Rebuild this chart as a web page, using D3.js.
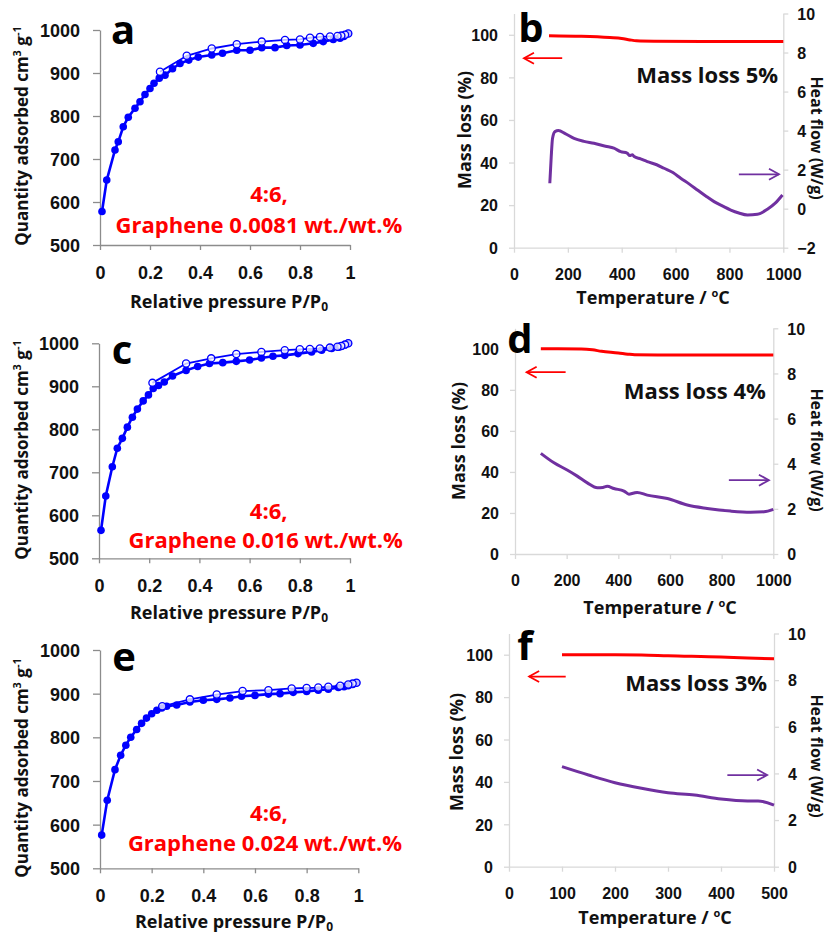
<!DOCTYPE html>
<html>
<head>
<meta charset="utf-8">
<script src="https://cdn.jsdelivr.net/npm/d3@7"></script>
<style>
  body { margin: 0; background: #fff; }
  svg { display: block; font-family: "Open Sans", sans-serif; }
  .iso .tick text { font-size: 18px; font-weight: 700; fill: #111; }
  .tga .tick text { font-size: 16px; font-weight: 700; fill: #111; }
  .ttl { font-weight: 700; fill: #111; }
</style>
</head>
<body>
<script>
// ---- isotherm data: [P/P0, quantity adsorbed] ----
var isoA_ads = [[0.008,578],[0.027,651],[0.06,721],[0.073,740],[0.093,775],[0.113,797],[0.14,818],[0.16,833],[0.18,850],[0.2,864],[0.216,876],[0.237,888],[0.26,895],[0.29,910],[0.32,922],[0.355,930],[0.393,937],[0.447,942],[0.49,946],[0.547,953],[0.6,953],[0.647,959],[0.7,959],[0.747,964],[0.8,965],[0.853,969],[0.893,973],[0.933,978],[0.96,981],[0.975,985],[0.993,992]];
var isoA_des = [[0.993,992],[0.98,989],[0.965,987],[0.95,986],[0.92,985],[0.88,984],[0.84,982],[0.8,978],[0.74,977],[0.647,973],[0.547,967],[0.447,957],[0.347,940],[0.24,903]];

var isoC_ads = [[0.008,565],[0.027,645],[0.053,713],[0.073,756],[0.093,779],[0.113,805],[0.133,828],[0.153,847],[0.176,866],[0.197,880],[0.216,895],[0.237,902],[0.26,910],[0.293,924],[0.347,937],[0.393,946],[0.44,953],[0.493,955],[0.547,958],[0.6,961],[0.647,966],[0.693,970],[0.74,972],[0.793,976],[0.847,980],[0.887,984],[0.927,988],[0.955,991],[0.967,993],[0.98,996],[0.993,1000]];
var isoC_des = [[0.993,1000],[0.98,997],[0.965,994],[0.95,992],[0.92,990],[0.88,988],[0.84,987],[0.8,986],[0.74,984],[0.647,980],[0.547,975],[0.447,965],[0.347,953],[0.213,908]];

var isoE_ads = [[0.0065,576],[0.028,656],[0.058,726],[0.08,759],[0.1,782],[0.119,800],[0.142,818],[0.161,832],[0.18,844],[0.2,854],[0.22,862],[0.239,867],[0.258,871],[0.297,874],[0.348,881],[0.4,885],[0.452,887],[0.503,890],[0.548,894],[0.6,896],[0.652,899],[0.697,900],[0.748,903],[0.8,905],[0.845,908],[0.884,910],[0.923,914],[0.945,916],[0.961,918],[0.978,921],[0.993,925]];
var isoE_des = [[0.993,925],[0.978,923],[0.961,921],[0.93,918],[0.884,916],[0.845,914],[0.8,913],[0.742,912],[0.652,908],[0.552,906],[0.452,898],[0.348,887],[0.241,871]];

var isoXTicks = [0, 0.2, 0.4, 0.6, 0.8, 1];
var isoYTicks = [500, 600, 700, 800, 900, 1000];
var isoLabels = ["Graphene 0.0081 wt./wt.%", "Graphene 0.016 wt./wt.%", "Graphene 0.024 wt./wt.%"];

// ---- TGA data: [temperature, mass %] and [temperature, heat flow W/g] ----
var massB = [[130,99.6],[250,99.3],[356,98.7],[400,98.3],[431,97.6],[455,97.2],[520,97.0],[700,96.9],[1000,96.9]];
var heatB = [[133,1.3],[138,2.6],[143,3.6],[152,3.95],[165,4.0],[190,3.85],[223,3.6],[260,3.45],[297,3.35],[340,3.2],[371,3.1],[396,2.92],[420,2.85],[430,2.72],[440,2.76],[446,2.67],[470,2.55],[495,2.41],[530,2.25],[557,2.07],[590,1.85],[619,1.56],[650,1.27],[681,0.96],[712,0.65],[743,0.36],[775,0.13],[805,-0.07],[835,-0.22],[867,-0.32],[904,-0.29],[941,-0.03],[970,0.28],[997,0.7]];

var massD = [[100,100],[257,99.9],[300,99.5],[335,98.8],[400,98.0],[437,97.4],[463,97.1],[600,97.0],[1000,97.0]];
var heatD = [[100,4.46],[151,4.04],[202,3.72],[241,3.45],[280,3.15],[319,2.93],[340,2.95],[357,3.0],[383,2.9],[422,2.79],[441,2.65],[460,2.7],[473,2.73],[512,2.61],[590,2.46],[667,2.17],[744,2.02],[835,1.9],[912,1.85],[964,1.87],[1000,1.98]];

var massF = [[100,100],[200,100],[250,99.9],[300,99.5],[400,98.9],[450,98.4],[500,98.1]];
var heatF = [[100,4.29],[150,3.93],[200,3.6],[250,3.36],[300,3.17],[350,3.07],[400,2.9],[450,2.82],[470,2.82],[500,2.64]];

var massTicks = [0, 20, 40, 60, 80, 100];
var tempTicks1000 = [0, 200, 400, 600, 800, 1000];
var tempTicks500 = [0, 100, 200, 300, 400, 500];
var lossLabels = ["Mass loss 5%", "Mass loss 4%", "Mass loss 3%"];

var svg = d3.select("body").append("svg")
  .attr("width", 828)
  .attr("height", 936);

function styleAxis(sel, color) {
  sel.select(".domain").attr("stroke", color).attr("stroke-width", 1.3);
  sel.selectAll(".tick line").attr("stroke", color).attr("stroke-width", 1.3);
}

function drawIso(p) {
  var x = d3.scaleLinear().domain([0, 1]).range([p.x0, p.x1]);
  var y = d3.scaleLinear().domain([500, 1000]).range([p.yb, p.yt]);
  var g = svg.append("g").attr("class", "iso");

  var ax = g.append("g")
    .attr("transform", "translate(0," + p.yb + ")")
    .call(d3.axisBottom(x).tickValues(isoXTicks).tickFormat(d3.format("~g"))
      .tickSize(5).tickSizeOuter(0).tickPadding(16));
  styleAxis(ax, "#8c8c8c");
  var ay = g.append("g")
    .attr("transform", "translate(" + p.x0 + ",0)")
    .call(d3.axisLeft(y).tickValues(isoYTicks).tickFormat(d3.format("d"))
      .tickSize(7).tickSizeOuter(0).tickPadding(13));
  styleAxis(ay, "#8c8c8c");
  ay.selectAll(".tick text").attr("dy", "0.36em");

  var line = d3.line().x(function(d) { return x(d[0]); }).y(function(d) { return y(d[1]); });

  g.append("path").datum(p.ads).attr("d", line)
    .attr("fill", "none").attr("stroke", "#0000ff").attr("stroke-width", 2.6);
  g.selectAll(".ads").data(p.ads).enter().append("circle")
    .attr("cx", function(d) { return x(d[0]); })
    .attr("cy", function(d) { return y(d[1]); })
    .attr("r", 3.8).attr("fill", "#0000ff");

  g.append("path").datum(p.des).attr("d", line)
    .attr("fill", "none").attr("stroke", "#0000ff").attr("stroke-width", 1.8);
  g.selectAll(".des").data(p.des).enter().append("circle")
    .attr("cx", function(d) { return x(d[0]); })
    .attr("cy", function(d) { return y(d[1]); })
    .attr("r", 3.6).attr("fill", "rgba(255,255,255,0.75)")
    .attr("stroke", "#0000ff").attr("stroke-width", 1.3);

  // panel letter
  g.append("text").attr("x", p.lx).attr("y", p.ly)
    .attr("text-anchor", "middle").attr("font-size", "40px").attr("font-weight", 700)
    .text(p.letter);

  // red annotation
  g.append("text").attr("x", x(p.t1[0])).attr("y", y(p.t1[1]))
    .attr("text-anchor", "middle").attr("font-size", "22px").attr("font-weight", 700)
    .attr("fill", "#ff0000").text("4:6,");
  g.append("text").attr("x", x(p.t2[0])).attr("y", y(p.t2[1]))
    .attr("text-anchor", "middle").attr("font-size", "22px").attr("font-weight", 700)
    .attr("fill", "#ff0000").attr("xml:space", "preserve").text(p.label);

  // x title with subscript
  var xt = g.append("text").attr("class", "ttl").attr("x", p.xtx).attr("y", p.xty)
    .attr("text-anchor", "middle").attr("font-size", "18px");
  xt.append("tspan").text("Relative pressure P/P");
  xt.append("tspan").attr("font-size", "12px").attr("dy", "3").text("0");

  // y title with superscripts
  var yt = g.append("text").attr("class", "ttl")
    .attr("transform", "translate(" + p.ytx + "," + p.yty + ") rotate(-90)")
    .attr("text-anchor", "middle").attr("font-size", "17px");
  yt.append("tspan").text("Quantity adsorbed cm");
  yt.append("tspan").attr("font-size", "11px").attr("dy", "-7").text("3");
  yt.append("tspan").attr("dy", "7").text(" g");
  yt.append("tspan").attr("font-size", "11px").attr("dy", "-7").text("-1");
}

function arrow(g, x1, y1, x2, y2, color) {
  g.append("line").attr("x1", x1).attr("y1", y1).attr("x2", x2).attr("y2", y2)
    .attr("stroke", color).attr("stroke-width", 1.8);
  var dir = x2 > x1 ? -1 : 1;
  g.append("path")
    .attr("d", "M" + (x2 + dir * 10) + "," + (y2 - 5.5) + "L" + x2 + "," + y2 + "L" + (x2 + dir * 10) + "," + (y2 + 5.5))
    .attr("fill", "none").attr("stroke", color).attr("stroke-width", 1.8);
}

function drawTga(p) {
  var x = d3.scaleLinear().domain([0, p.tmax]).range([p.x0, p.x1]);
  var yl = d3.scaleLinear().domain([0, 110]).range([p.yb, p.yt]);
  var yr = d3.scaleLinear().domain([p.rmin, 10]).range([p.yb, p.yt]);
  var g = svg.append("g").attr("class", "tga");
  var grey = "#d9d9d9";

  var ax = g.append("g").attr("transform", "translate(0," + p.yb + ")")
    .call(d3.axisBottom(x).tickValues(p.xticks).tickFormat(d3.format("d"))
      .tickSize(5).tickSizeOuter(0).tickPadding(16));
  styleAxis(ax, grey);
  var al = g.append("g").attr("transform", "translate(" + p.x0 + ",0)")
    .call(d3.axisLeft(yl).tickValues(massTicks).tickSize(5).tickSizeOuter(0).tickPadding(11));
  styleAxis(al, grey);
  al.selectAll(".tick text").attr("dy", "0.36em");
  var ar = g.append("g").attr("transform", "translate(" + p.x1 + ",0)")
    .call(d3.axisRight(yr).tickValues(p.rticks).tickSize(5).tickSizeOuter(0).tickPadding(9));
  styleAxis(ar, grey);
  ar.selectAll(".tick text").attr("dy", "0.36em");

  var lineM = d3.line().curve(d3.curveMonotoneX)
    .x(function(d) { return x(d[0]); }).y(function(d) { return yl(d[1]); });
  var lineH = d3.line().curve(d3.curveMonotoneX)
    .x(function(d) { return x(d[0]); }).y(function(d) { return yr(d[1]); });

  g.append("path").datum(p.mass).attr("d", lineM)
    .attr("fill", "none").attr("stroke", "#ff0000").attr("stroke-width", 3);
  g.append("path").datum(p.heat).attr("d", lineH)
    .attr("fill", "none").attr("stroke", "#7030a0").attr("stroke-width", 3);

  arrow(g, x(p.ra[0]), yl(p.ra[2]), x(p.ra[1]), yl(p.ra[2]), "#ff0000");
  arrow(g, x(p.pa[0]), yr(p.pa[2]), x(p.pa[1]), yr(p.pa[2]), "#7030a0");

  g.append("text").attr("x", p.lx).attr("y", p.ly)
    .attr("text-anchor", "middle").attr("font-size", "40px").attr("font-weight", 700)
    .text(p.letter);

  g.append("text").attr("x", x(p.tl[0])).attr("y", yl(p.tl[1]))
    .attr("text-anchor", "end").attr("font-size", "22px").attr("font-weight", 700)
    .attr("fill", "#111").text(p.label);

  var xt = g.append("text").attr("class", "ttl").attr("x", p.xtx).attr("y", p.xty)
    .attr("text-anchor", "middle").attr("font-size", "18px");
  xt.append("tspan").text("Temperature / ");
  xt.append("tspan").attr("font-size", "11px").attr("dy", "-7").text("o");
  xt.append("tspan").attr("dy", "7").text("C");

  g.append("text").attr("class", "ttl")
    .attr("transform", "translate(" + p.ltx + "," + p.lty + ") rotate(-90)")
    .attr("text-anchor", "middle").attr("dy", "0.35em").attr("font-size", "18px")
    .text("Mass loss (%)");
  // right title: baseline sits at x = rtx, glyphs rise to the right
  g.append("text").attr("class", "ttl")
    .attr("transform", "translate(" + p.rtx + "," + p.rty + ") rotate(90)")
    .attr("text-anchor", "middle").attr("font-size", "16px")
    .text("Heat flow (W/g)");
}

// isotherm panels
drawIso({ letter: "a", ads: isoA_ads, des: isoA_des, label: isoLabels[0],
  x0: 100, x1: 350, yb: 245, yt: 30, lx: 123, ly: 44,
  t1: [0.676, 600], t2: [0.636, 528], xtx: 229, xty: 308, ytx: 28, yty: 136 });
drawIso({ letter: "c", ads: isoC_ads, des: isoC_des, label: isoLabels[1],
  x0: 99, x1: 350, yb: 558.3, yt: 343.3, lx: 122, ly: 364,
  t1: [0.676, 591], t2: [0.664, 524], xtx: 229, xty: 619, ytx: 28, yty: 450 });
drawIso({ letter: "e", ads: isoE_ads, des: isoE_des, label: isoLabels[2],
  x0: 100, x1: 358.3, yb: 868.3, yt: 650, lx: 124, ly: 671,
  t1: [0.654, 608], t2: [0.639, 540], xtx: 234, xty: 928, ytx: 28, yty: 768 });

// TGA panels
drawTga({ letter: "b", mass: massB, heat: heatB, label: lossLabels[0],
  tmax: 1000, x0: 514, x1: 783.3, yb: 247.7, yt: 13.5, rmin: -2,
  xticks: tempTicks1000, rticks: [-2, 0, 2, 4, 6, 8, 10],
  ra: [179, 37, 89], pa: [835, 984, 1.76], tl: [981, 77.3],
  lx: 531, ly: 42, xtx: 653, xty: 304, ltx: 465, lty: 130, rtx: 811, rty: 138 });
drawTga({ letter: "d", mass: massD, heat: heatD, label: lossLabels[1],
  tmax: 1000, x0: 515, x1: 773.3, yb: 554, yt: 328.3, rmin: 0,
  xticks: tempTicks1000, rticks: [0, 2, 4, 6, 8, 10],
  ra: [196, 45, 88.6], pa: [828, 983, 3.27], tl: [971, 75.5],
  lx: 520, ly: 353, xtx: 660, xty: 614, ltx: 459, lty: 441, rtx: 811, rty: 450 });
drawTga({ letter: "f", mass: massF, heat: heatF, label: lossLabels[2],
  tmax: 500, x0: 509, x1: 774, yb: 866.7, yt: 633.5, rmin: 0,
  xticks: tempTicks500, rticks: [0, 2, 4, 6, 8, 10],
  ra: [107, 38, 89.7], pa: [412, 487, 3.93], tl: [487, 83.1],
  lx: 525, ly: 660, xtx: 655, xty: 924, ltx: 457, lty: 752, rtx: 811, rty: 756 });
</script>
</body>
</html>
